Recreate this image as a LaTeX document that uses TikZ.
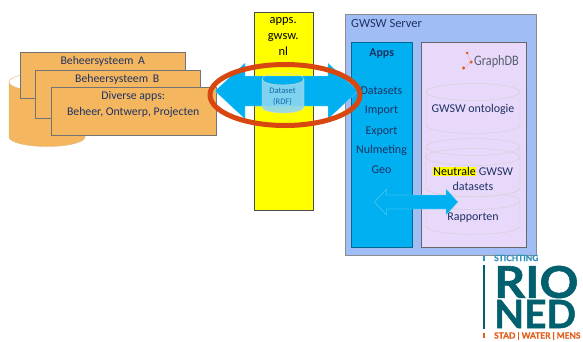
\documentclass[tikz,border=0pt]{standalone}
\usepackage{fontspec}
\setmainfont{Carlito}
\newfontfamily\logofont[BoldFeatures={FakeBold=1.2}]{Lato}
\usetikzlibrary{positioning,shapes.geometric}
\definecolor{orangebox}{HTML}{F4B65F}
\definecolor{navytext}{HTML}{1F3264}
\definecolor{arrowblue}{HTML}{00B0F0}
\definecolor{serverblue}{HTML}{A0BEF5}
\definecolor{lilac}{HTML}{E8D8FA}
\definecolor{logoteal}{HTML}{00606E}
\definecolor{logoorange}{HTML}{E2601E}
\definecolor{ringred}{HTML}{D8470F}
\definecolor{appyellow}{HTML}{FFFF00}
\definecolor{datablue}{HTML}{8FD6F2}
\newcommand{\bodysize}{\fontsize{12}{14}\selectfont}
\newcommand{\smallsize}{\fontsize{11.8}{15.5}\selectfont}
% #1 style, #2 centre x, #3 top y, #4 half width, #5 height, #6 ellipse radius
\newcommand{\drum}[6]{
  \draw [#1] (#2-#4,#3) arc[start angle=180,end angle=360,x radius=#4,y radius=-#6]
        -- ++(0,#5) arc[start angle=0,end angle=-180,x radius=#4,y radius=-#6] -- cycle;
  \draw [#1, fill=none] (#2-#4,#3) arc[start angle=180,end angle=0,x radius=#4,y radius=-#6];
}
% #1 style, #2 left tip, #3 right tip, #4 y, #5 head length, #6 half shaft, #7 half head
\newcommand{\flowarrow}[7]{
  \draw [#1] (#2,#4) -- ++(#5,-#7) -- ++(0,#7-#6) -- (#3-#5,#4-#6) -- ++(0,#6-#7)
        -- (#3,#4) -- ++(-#5,#7) -- ++(0,#6-#7) -- (#2+#5,#4+#6) -- ++(0,#7-#6) -- cycle;
}
\tikzstyle{sysbox}=[fill=orangebox,draw=black!55,text=navytext,shape=rectangle,
                    minimum width=165bp,inner sep=0pt,align=center,font=\smallsize]
\tikzstyle{panel}=[draw=black!60,shape=rectangle,minimum height=205bp,inner sep=0pt]
\tikzstyle{store}=[draw=black!18,fill=lilac]
\tikzstyle{label}=[fill=none,text=navytext,draw=none,font=\bodysize,inner sep=0pt]
\tikzstyle{flow}=[fill=arrowblue,draw=arrowblue!45,very thin]
\tikzstyle{dot}=[shape=circle,fill=logoorange,draw=none,inner sep=0pt]

\begin{document}
\begin{tikzpicture}[x=1bp,y=-1bp]
\useasboundingbox (0,0) rectangle (583,341);

% left side
\drum{fill=orangebox,draw=orangebox!90!black!80}{47}{82}{38}{55}{9.5}
\node [sysbox, minimum height=46bp, anchor=north west] (sysa) at (20,52) {};
\node [text=navytext, font=\smallsize, inner sep=0pt, below=4.5bp of sysa.north] (sysatext) {Beheersysteem\, A};
\node [sysbox, minimum height=48bp, anchor=north west] (sysb) at (34.5,69.5) {};
\node [text=navytext, font=\smallsize, inner sep=0pt, below=4.5bp of sysb.north] (sysbtext) {Beheersysteem\, B};
\node [sysbox, minimum height=48bp, anchor=north west] (sysc) at (50.5,86.5) {};
\node [text=navytext, font=\smallsize, inner sep=0pt, align=center, below=5bp of sysc.north] (sysctext) {Diverse apps:\\Beheer, Ontwerp, Projecten};

% yellow column
\node [fill=appyellow,draw=black!70,shape=rectangle,minimum width=59bp,minimum height=198bp,
       anchor=north west,inner sep=0pt] (apps) at (253.5,11.5) {};
\node [below=6bp of apps.north, align=center, inner sep=0pt, text=black,
       font=\fontsize{12.5}{16}\selectfont] (appslabel) {apps.\\gwsw.\\nl};

% server
\node [fill=serverblue,draw=black!45,shape=rectangle,minimum width=191bp,minimum height=241bp,
       anchor=north west,inner sep=0pt] (server) at (345,13.5) {};
\node [label, font=\fontsize{12.5}{15}\selectfont, below right=6bp and 6bp of server.north west] (servername) {GWSW Server};
\node [panel, fill=arrowblue, draw=black!40!arrowblue, minimum width=61bp, anchor=north west] (appspanel) at (351,42) {};
\node [panel, fill=lilac, minimum width=105bp, anchor=north west] (dbpanel) at (421,42) {};

\node [label, font=\bodysize\bfseries, below=6.5bp of appspanel.north] (appstitle) {Apps};
\node [label] (datasets) at (381.5,91) {Datasets};
\node [label, below=11bp of datasets] (import) {Import};
\node [label, below=10.5bp of import] (export) {Export};
\node [label, below=8bp of export] (nulmeting) {Nulmeting};
\node [label, below=10bp of nulmeting] (geo) {Geo};

% graphdb logo
\node [inner sep=0pt, text=black!50!navytext!70, font=\fontsize{14.5}{15}\selectfont, xscale=.85] (graphdb) at (496.5,62) {GraphDB};
\node [dot, minimum size=3bp] (d1) at (467,53) {};
\node [dot, minimum size=3.5bp] (d2) at (471,62) {};
\node [dot, minimum size=3.5bp] (d3) at (463.5,68) {};
\draw [logoorange, densely dotted] (d1) -- (d2) -- (d3);

% stores
\drum{store}{473}{92}{47}{33}{8.5}
\node [label] (onto) at (473,109) {GWSW ontologie};
\drum{store}{473}{201}{47}{25}{8.5}
\drum{store}{473}{147}{47}{41}{8.5}
\drum{store}{473}{157}{47}{31}{8.5}
\node [label, align=center, font=\fontsize{12}{14.5}\selectfont] (neutrallabel) at (473,178.5)
      {\setlength{\fboxsep}{0.5pt}\colorbox{appyellow}{\textcolor{black}{Neutrale}} GWSW\\datasets};
\node [label] (rapportlabel) at (473,218) {Rapporten};

% small arrow
\flowarrow{flow}{374.5}{458}{202}{12}{7}{13}

% dataset and big arrow
\flowarrow{flow}{215}{358}{91}{30}{15}{28}
\drum{draw=black!15,fill=datablue,fill opacity=.9}{283}{79}{21}{28}{6}
\node [inner sep=0pt, align=center, text=arrowblue!45!navytext, font=\fontsize{8.5}{11}\selectfont] (dataset) at (282.5,96.5) {Dataset\\(RDF)};

% red ring
\node [shape=ellipse,draw=ringred,line width=5bp,fill=none,minimum width=150bp,minimum height=61bp,inner sep=0pt] (ring) at (285,95) {};

% logo
\fill [logoteal] (483,265) rectangle (485,329);
\fill [cyan!70!logoteal] (483,256) rectangle (485,261);
\fill [logoorange] (483,333) rectangle (485,338);
\node [anchor=west, inner sep=0pt, text=cyan!55!logoteal, font=\logofont\bfseries\fontsize{8.4}{9}\selectfont] (stichting) at (494,258) {STICHTING};
\node [anchor=west, inner sep=0pt, text=logoteal, font=\logofont\bfseries\fontsize{44}{44}\selectfont, xscale=1.1] (rio) at (494,282) {RIO};
\node [anchor=west, inner sep=0pt, text=logoteal, font=\logofont\bfseries\fontsize{39}{39}\selectfont, xscale=1.0] (ned) at (494,314) {NED};
\node [anchor=west, inner sep=0pt, text=logoorange, font=\logofont\bfseries\fontsize{8.4}{9}\selectfont] (stad) at (494,336) {STAD | WATER | MENS};
\end{tikzpicture}
\end{document}
